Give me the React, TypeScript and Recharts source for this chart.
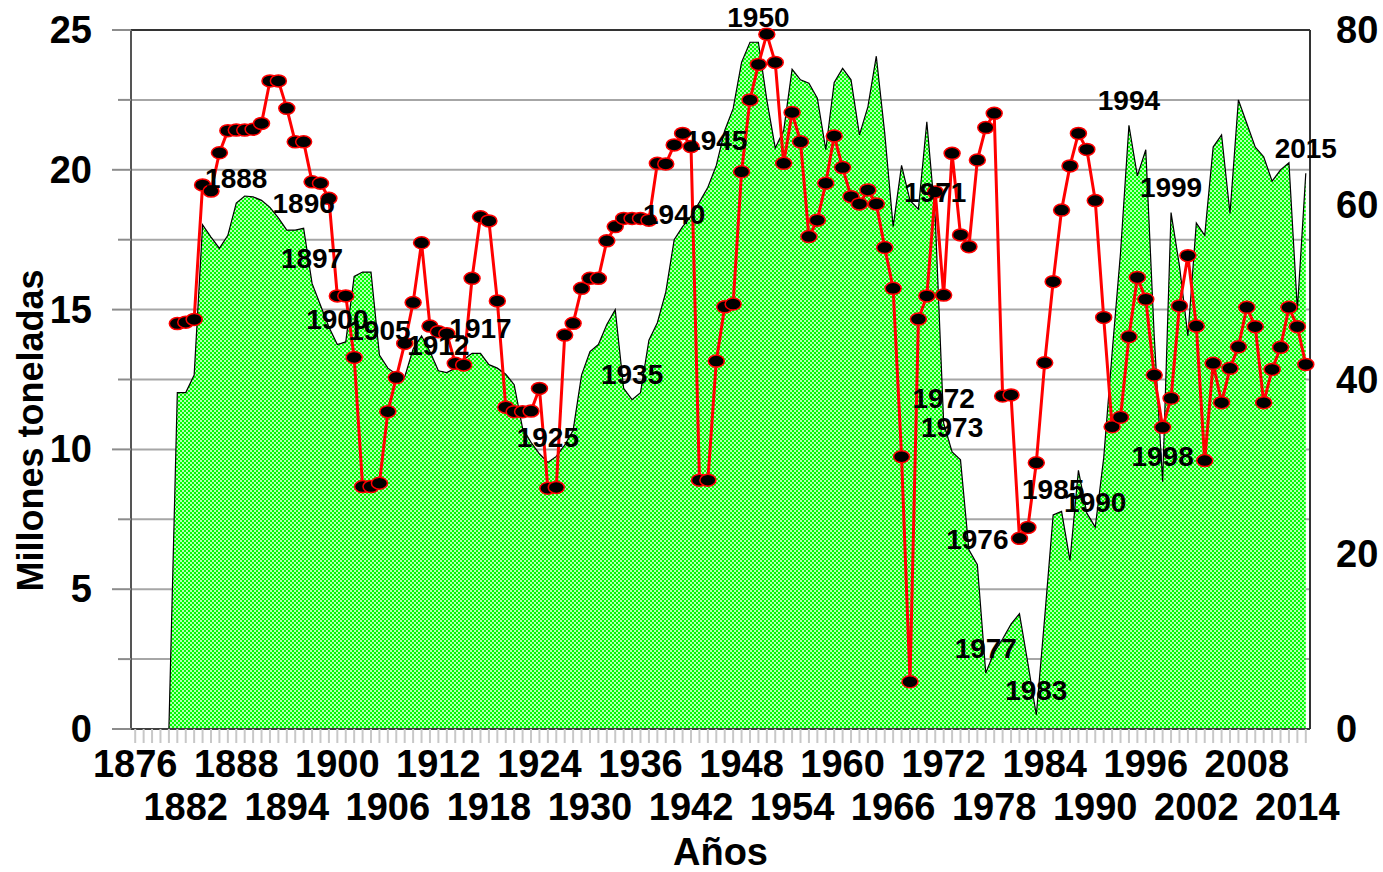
import React from 'react';
import { ComposedChart, Area, Line, XAxis, YAxis, CartesianGrid, ReferenceLine, LabelList, Label } from 'recharts';

// green area (right axis, 0-80), one value per year from 1880
const areaStart = 1880;
const areaValues = [
    0, 38.5, 38.5, 40.5, 57.7, 56.3, 55.0, 56.5, 60.2, 61.0,
    60.9, 60.5, 59.7, 58.5, 57.1, 57.1, 57.3, 51.0, 48.5, 46.0,
    44.0, 44.3, 51.8, 52.3, 52.3, 42.8, 41.3, 40.6, 40.3, 43.5,
    45.0, 43.2, 41.0, 40.8, 41.3, 42.3, 43.0, 43.0, 41.7, 41.3,
    40.6, 39.4, 34.4, 32.8, 31.5, 30.5, 31.2, 32.5, 34.2, 40.5,
    43.2, 44.0, 46.3, 48.0, 39.0, 37.7, 38.5, 44.5, 46.5, 50.0,
    56.0, 57.5, 58.7, 60.3, 62.0, 64.5, 68.5, 71.0, 76.3, 78.6,
    78.6, 72.0, 66.5, 68.5, 75.5, 74.3, 73.9, 72.2, 66.3, 74.0,
    75.6, 74.3, 68.0, 71.2, 77.0, 68.2, 57.5, 64.5, 60.5, 59.5,
    69.5, 58.5, 35.0, 31.7, 30.8, 20.5, 18.8, 6.4, 8.8, 10.3,
    12.0, 13.2, 7.5, 1.6, 12.8, 24.5, 24.9, 19.3, 29.6, 24.7,
    23.1, 31.0, 43.0, 54.5, 69.1, 63.3, 66.3, 45.0, 28.3, 59.1,
    53.0, 45.0, 57.9, 56.5, 66.6, 68.0, 59.0, 72.0, 69.3, 66.6,
    65.5, 62.7, 64.0, 64.8, 48.0, 63.6,
];

// red line (Millones toneladas), one value per year from 1881
const lineStart = 1881;
const lineValues = [
    14.5, 14.55, 14.65, 19.46, 19.24, 20.61, 21.4, 21.42, 21.42, 21.45,
    21.66, 23.18, 23.18, 22.2, 21.0, 21.0, 19.57, 19.52, 18.98, 15.49,
    15.49, 13.29, 8.67, 8.67, 8.79, 11.35, 12.57, 13.79, 15.25, 17.39,
    14.41, 14.21, 14.14, 13.08, 13.02, 16.12, 18.32, 18.17, 15.31, 11.51,
    11.35, 11.35, 11.37, 12.18, 8.61, 8.64, 14.09, 14.51, 15.76, 16.12,
    16.12, 17.46, 17.97, 18.26, 18.26, 18.26, 18.2, 20.23, 20.21, 20.89,
    21.3, 20.83, 8.9, 8.9, 13.16, 15.1, 15.2, 19.93, 22.5, 23.77,
    24.85, 23.84, 20.23, 22.05, 21.0, 17.61, 18.2, 19.52, 21.21, 20.08,
    19.04, 18.78, 19.28, 18.78, 17.22, 15.76, 9.74, 1.69, 14.66, 15.49,
    19.21, 15.52, 20.59, 17.67, 17.25, 20.35, 21.51, 22.02, 11.91, 11.95,
    6.82, 7.21, 9.52, 13.1, 16.0, 18.56, 20.14, 21.3, 20.73, 18.9,
    14.72, 10.81, 11.15, 14.03, 16.15, 15.37, 12.66, 10.79, 11.83, 15.13,
    16.93, 14.41, 9.6, 13.08, 11.67, 12.9, 13.67, 15.08, 14.39, 11.67,
    12.86, 13.65, 15.08, 14.39, 13.04,
];

// years written over the green area
const labeledYears = [
    1888, 1896, 1897, 1900, 1905, 1912, 1917, 1925, 1935, 1940, 1945, 1950,
    1971, 1972, 1973, 1976, 1977, 1983, 1985, 1990, 1994, 1998, 1999, 2015,
];

const xLabelYears = [
    1876, 1882, 1888, 1894, 1900, 1906, 1912, 1918, 1924, 1930, 1936, 1942,
    1948, 1954, 1960, 1966, 1972, 1978, 1984, 1990, 1996, 2002, 2008, 2014,
];
const leftTicks = [0, 2.5, 5, 7.5, 10, 12.5, 15, 17.5, 20, 22.5, 25];
const rightTicks = [0, 20, 40, 60, 80];

const firstTickYear = 1876;
const lastYear = 2015;

const data = areaValues.map((g, i) => {
    const year = areaStart + i;
    const r = year >= lineStart ? lineValues[year - lineStart] : null;
    return { year, green: g, red: r };
});

const yearTicks: number[] = [];
for (let y = firstTickYear; y <= lastYear; y++) yearTicks.push(y);

const FONT = '"Liberation Sans", Arial, sans-serif';

const XTick = (props: any) => {
    const { x, y, payload } = props;
    const idx = xLabelYears.indexOf(payload.value);
    return (
        <g>
            <line x1={x} x2={x} y1={y} y2={y + 14} stroke="#c8c8c8" strokeWidth={2} />
            {idx >= 0 && (
                <text
                    x={x}
                    y={y + (idx % 2 === 0 ? 35 : 78)}
                    textAnchor="middle"
                    dominantBaseline="central"
                    fontFamily={FONT}
                    fontWeight="bold"
                    fontSize={38}
                    fill="#000"
                >
                    {payload.value}
                </text>
            )}
        </g>
    );
};

const LeftTick = (props: any) => {
    const { x, y, payload } = props;
    const major = payload.value % 5 === 0;
    return (
        <g>
            <line x1={x - (major ? 19 : 13)} x2={x} y1={y} y2={y} stroke="#8c8c8c" strokeWidth={2} />
            {major && (
                <text x={x - 39} y={y} textAnchor="end" dominantBaseline="central"
                    fontFamily={FONT} fontWeight="bold" fontSize={38} fill="#000">
                    {payload.value}
                </text>
            )}
        </g>
    );
};

const RightTick = (props: any) => {
    const { x, y, payload } = props;
    return (
        <text x={x} y={y} textAnchor="start" dominantBaseline="central"
            fontFamily={FONT} fontWeight="bold" fontSize={38} fill="#000">
            {payload.value}
        </text>
    );
};

const renderYearLabel = (props: any) => {
    const { x, y, value, index } = props;
    if (!labeledYears.includes(value)) return <g key={`l-${index}`} />;
    return (
        <text key={`l-${index}`} x={x} y={y - 25} textAnchor="middle" dominantBaseline="central"
            fontFamily={FONT} fontWeight="bold" fontSize={28} fill="#000">
            {value}
        </text>
    );
};

const renderDot = (p: any) => {
    if (p.cy == null || p.value == null) return <g key={`d-${p.index}`} />;
    return (
        <ellipse key={`d-${p.index}`} cx={p.cx} cy={p.cy} rx={8} ry={6}
            fill="#000" stroke="#ff0000" strokeWidth={1.5} />
    );
};

export default function App() {
    return (
        <div style={{ position: 'absolute', left: 0, top: 0, background: '#fff' }}>
            <ComposedChart width={1383} height={872} data={data}
                margin={{ top: 30, right: 0, bottom: 0, left: 0 }}>
                <defs>
                    <pattern id="greenDots" x="0" y="0" width="4" height="4" patternUnits="userSpaceOnUse">
                        <rect x="0" y="0" width="4" height="4" fill="#00ff00" />
                        <rect x="0" y="0" width="2" height="2" fill="#ffffff" fillOpacity={0.7} />
                        <rect x="2" y="2" width="2" height="2" fill="#ffffff" fillOpacity={0.7} />
                    </pattern>
                </defs>
                <CartesianGrid yAxisId="left" vertical={false} stroke="#a6a6a6" strokeWidth={2} />
                <XAxis
                    dataKey="year"
                    type="number"
                    domain={[firstTickYear - 0.5, lastYear + 0.5]}
                    ticks={yearTicks}
                    interval={0}
                    height={143}
                    tickSize={0}
                    tickMargin={0}
                    tickLine={false}
                    axisLine={{ stroke: '#404040', strokeWidth: 2 }}
                    tick={XTick}
                >
                    <Label
                        content={(p: any) => {
                            const vb = p.viewBox;
                            return (
                                <text x={vb.x + vb.width / 2} y={vb.y + 123} textAnchor="middle"
                                    dominantBaseline="central" fontFamily={FONT} fontWeight="bold"
                                    fontSize={38} fill="#000">
                                    Años
                                </text>
                            );
                        }}
                    />
                </XAxis>
                <YAxis
                    yAxisId="left"
                    domain={[0, 25]}
                    ticks={leftTicks}
                    interval={0}
                    width={131}
                    tickSize={0}
                    tickMargin={0}
                    tickLine={false}
                    axisLine={{ stroke: '#555555', strokeWidth: 2 }}
                    tick={LeftTick}
                >
                    <Label
                        content={(p: any) => {
                            const vb = p.viewBox;
                            const cx = vb.x + 30;
                            const cy = vb.y + vb.height / 2 + 51;
                            return (
                                <text x={cx} y={cy} transform={`rotate(-90 ${cx} ${cy})`} textAnchor="middle"
                                    dominantBaseline="central" fontFamily={FONT} fontWeight="bold"
                                    fontSize={36} fill="#000">
                                    Millones toneladas
                                </text>
                            );
                        }}
                    />
                </YAxis>
                <YAxis
                    yAxisId="right"
                    orientation="right"
                    domain={[0, 80]}
                    ticks={rightTicks}
                    interval={0}
                    width={73}
                    tickSize={0}
                    tickMargin={26}
                    tickLine={false}
                    axisLine={{ stroke: '#333333', strokeWidth: 2 }}
                    tick={RightTick}
                />
                <Area
                    yAxisId="right"
                    type="linear"
                    dataKey="green"
                    stroke="#000"
                    strokeWidth={1.2}
                    fill="url(#greenDots)"
                    fillOpacity={1}
                    isAnimationActive={false}
                >
                    <LabelList dataKey="year" content={renderYearLabel} />
                </Area>
                <ReferenceLine yAxisId="left" y={25} stroke="#333333" strokeWidth={2} />
                <Line
                    yAxisId="left"
                    type="linear"
                    dataKey="red"
                    stroke="#ff0000"
                    strokeWidth={3}
                    dot={renderDot}
                    activeDot={false}
                    isAnimationActive={false}
                />
            </ComposedChart>
        </div>
    );
}
